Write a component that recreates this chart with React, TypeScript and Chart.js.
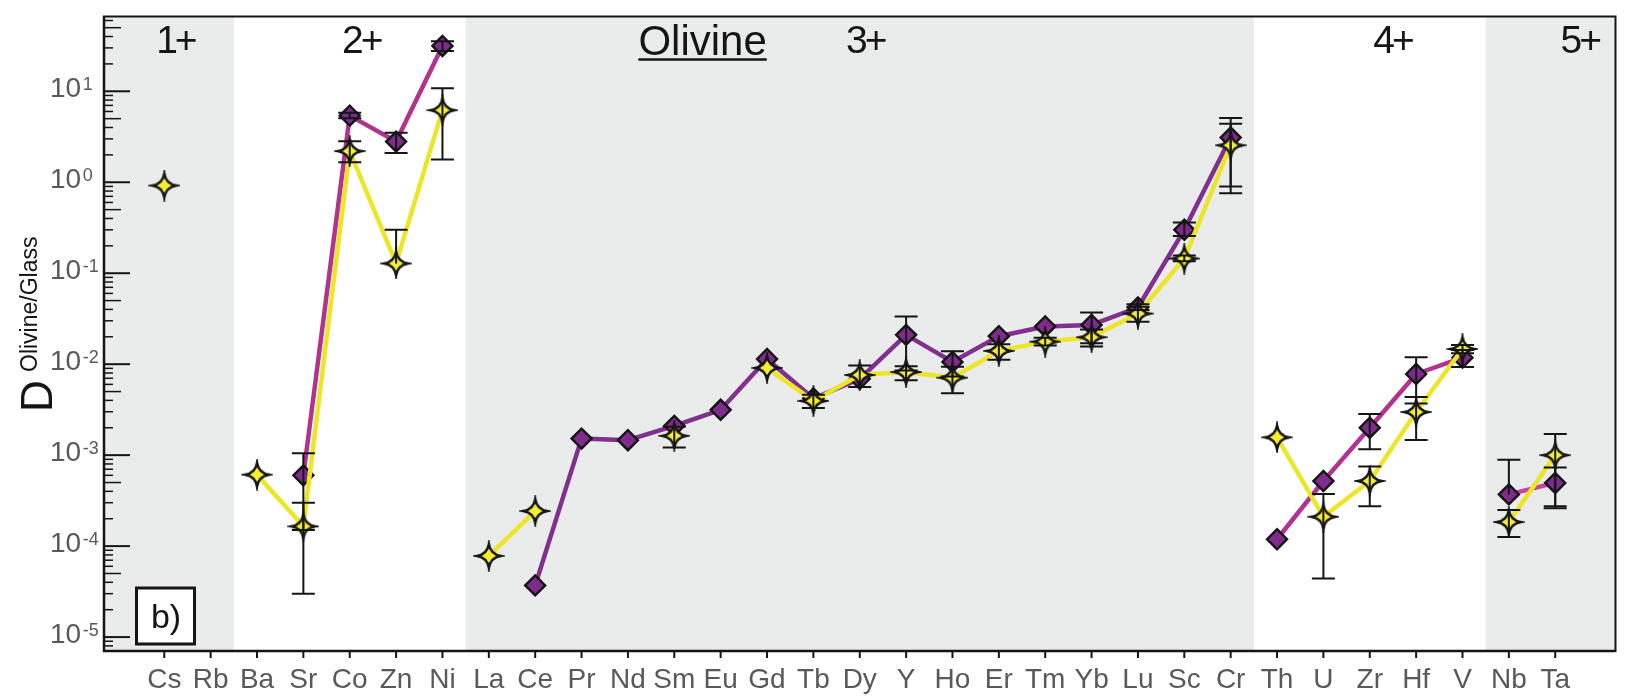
import React, { useEffect, useRef } from 'react';
import { Chart, registerables } from 'chart.js';

Chart.register(...registerables);

// ---------- data ----------
const ELEMENTS = ['Cs', 'Rb', 'Ba', 'Sr', 'Co', 'Zn', 'Ni', 'La', 'Ce', 'Pr', 'Nd', 'Sm', 'Eu', 'Gd', 'Tb', 'Dy', 'Y', 'Ho', 'Er', 'Tm', 'Yb', 'Lu', 'Sc', 'Cr', 'Th', 'U', 'Zr', 'Hf', 'V', 'Nb', 'Ta'];
const GROUP_STARTS = [0, 2, 7, 24, 29];
const GROUP_LABELS = ['1+', '2+', '3+', '4+', '5+'];
const MINERAL_LABEL = 'Olivine';
const PANEL_LABEL = 'b)';
const Y_TITLE_MAIN = 'D';
const Y_TITLE_SUP = 'Olivine/Glass';
const Y_DECADES = [-5, -4, -3, -2, -1, 0, 1];

// purple diamonds
const SERIES_A: (number | null)[] = [null, null, null, 6.0e-4, 5.4, 2.8, 31.5, null, 3.7e-5, 1.52e-3, 1.46e-3, 2.1e-3, 3.15e-3, 0.0114, 4.2e-3, 6.9e-3, 0.021, 0.0106, 0.0203, 0.026, 0.027, 0.042, 0.30, 3.1, 1.19e-4, 5.2e-4, 2.0e-3, 7.8e-3, 0.0118, 3.7e-4, 4.95e-4];
const SERIES_A_LOW: (number | null)[] = [null, null, null, 1.5e-4, 5.05, 2.1, 27.7, null, null, null, null, null, null, null, null, null, 8.5e-3, 7.3e-3, null, null, 0.017, 0.0395, 0.256, 0.9, null, null, 1.16e-3, 3.7e-3, 9.3e-3, null, 2.6e-4];
const SERIES_A_HIGH: (number | null)[] = [null, null, null, 1.05e-3, 5.8, 3.5, 35.6, null, null, null, null, null, null, null, null, null, 0.0335, 0.0139, null, null, 0.037, 0.0456, 0.36, 5.1, null, null, 2.83e-3, 0.0119, 0.0143, 8.9e-4, 7.3e-4];

// yellow stars
const SERIES_B: (number | null)[] = [0.92, null, 6.1e-4, 1.65e-4, 2.2, 0.128, 6.2, 7.8e-5, 2.43e-4, null, null, 1.63e-3, null, 9.1e-3, 3.95e-3, 7.6e-3, 8.2e-3, 7.1e-3, 0.014, 0.0177, 0.0198, 0.036, 0.145, 2.55, 1.57e-3, 2.1e-4, 5.2e-4, 2.98e-3, 0.0147, 1.84e-4, 1.0e-3];
const SERIES_B_LOW: (number | null)[] = [null, null, null, 3.0e-5, 1.66, null, 1.78, null, null, null, null, 1.21e-3, null, null, 3.3e-3, 5.6e-3, 6.65e-3, 4.8e-3, 0.0112, 0.016, 0.0156, 0.0293, 0.135, 0.757, null, 4.4e-5, 2.75e-4, 1.47e-3, 0.0132, 1.26e-4, 2.75e-4];
const SERIES_B_HIGH: (number | null)[] = [null, null, null, 3.0e-4, 2.82, 0.30, 10.8, null, null, null, null, 2.05e-3, null, null, 4.6e-3, 9.7e-3, 9.5e-3, 9.4e-3, 0.0166, 0.0195, 0.024, 0.0427, 0.157, 4.4, null, 3.75e-4, 7.5e-4, 4.37e-3, 0.0162, 2.5e-4, 1.71e-3];

// ---------- styling ----------
const FONT = '"Liberation Sans", Arial, Helvetica, sans-serif';
const BAND_GREY = '#eaebeb';
const TICK_TEXT = '#58595b';
const INK = '#151515';
const YELLOW_LINE = '#ede626';
const YELLOW_FILL = '#f6ee2c';
const PURPLE_FILL = '#7e2b8c';
const PURPLE_LINE_BY_GROUP = ['#b3328f', '#b3328f', '#82308e', '#b3328f', '#c844a3'];
const GROUP_LABEL_POS = [0.24, 4.25, 15.12, 26.49, 30.53];
const MINERAL_LABEL_POS = 11.61;

function groupOf(i: number) {
  let g = 0;
  for (let k = 0; k < GROUP_STARTS.length; k++) if (i >= GROUP_STARTS[k]) g = k;
  return g;
}

function makeStar(): HTMLCanvasElement {
  const c = document.createElement('canvas');
  const S = 32;
  c.width = S;
  c.height = S;
  const ctx = c.getContext('2d')!;
  const m = S / 2;
  const R = 12;
  const q = 1.6;
  ctx.beginPath();
  ctx.moveTo(m, m - R);
  ctx.quadraticCurveTo(m + q, m - q, m + R, m);
  ctx.quadraticCurveTo(m + q, m + q, m, m + R);
  ctx.quadraticCurveTo(m - q, m + q, m - R, m);
  ctx.quadraticCurveTo(m - q, m - q, m, m - R);
  ctx.closePath();
  ctx.fillStyle = YELLOW_FILL;
  ctx.fill();
  ctx.lineWidth = 2.4;
  ctx.lineJoin = 'miter';
  ctx.strokeStyle = INK;
  ctx.stroke();
  return c;
}

const decor = {
  id: 'decor',
  beforeDatasetsDraw(chart: any) {
    const { ctx, chartArea: a, scales } = chart;
    const xs = scales.x;
    ctx.save();
    ctx.fillStyle = '#ffffff';
    ctx.fillRect(a.left, a.top, a.right - a.left, a.bottom - a.top);
    for (let g = 0; g < GROUP_STARTS.length; g++) {
      if (g % 2 !== 0) continue;
      const s = GROUP_STARTS[g];
      const e = g + 1 < GROUP_STARTS.length ? GROUP_STARTS[g + 1] - 1 : ELEMENTS.length - 1;
      const x0 = g === 0 ? a.left : xs.getPixelForValue(s - 0.5);
      const x1 = g === GROUP_STARTS.length - 1 ? a.right : xs.getPixelForValue(e + 0.5);
      ctx.fillStyle = BAND_GREY;
      ctx.fillRect(x0, a.top, x1 - x0, a.bottom - a.top);
    }
    ctx.restore();
  },
  afterDatasetsDraw(chart: any) {
    const { ctx, chartArea: a, scales } = chart;
    const xs = scales.x;
    const ys = scales.y;
    ctx.save();

    // error bars
    const drawErr = (vals: (number | null)[], lo: (number | null)[], hi: (number | null)[]) => {
      for (let i = 0; i < vals.length; i++) {
        const v = vals[i];
        if (v == null) continue;
        const l = lo[i];
        const h = hi[i];
        if (l == null && h == null) continue;
        const x = xs.getPixelForValue(i);
        const yv = ys.getPixelForValue(v);
        const yl = l != null ? ys.getPixelForValue(l) : yv;
        const yh = h != null ? ys.getPixelForValue(h) : yv;
        ctx.strokeStyle = INK;
        ctx.lineWidth = 2;
        ctx.beginPath();
        ctx.moveTo(x, yl);
        ctx.lineTo(x, yh);
        if (l != null) {
          ctx.moveTo(x - 11.5, yl);
          ctx.lineTo(x + 11.5, yl);
        }
        if (h != null) {
          ctx.moveTo(x - 11.5, yh);
          ctx.lineTo(x + 11.5, yh);
        }
        ctx.stroke();
      }
    };
    drawErr(SERIES_A, SERIES_A_LOW, SERIES_A_HIGH);
    drawErr(SERIES_B, SERIES_B_LOW, SERIES_B_HIGH);

    // frame
    ctx.strokeStyle = INK;
    ctx.lineWidth = 2;
    ctx.strokeRect(a.left, a.top, a.right - a.left, a.bottom - a.top);
    ctx.lineWidth = 2.5;
    ctx.beginPath();
    ctx.moveTo(a.left, a.top);
    ctx.lineTo(a.left, a.bottom);
    ctx.lineTo(a.right, a.bottom);
    ctx.stroke();

    // y ticks (inside)
    const yMin = ys.min;
    const yMax = ys.max;
    for (let e = -6; e <= 2; e++) {
      for (let m = 1; m <= 9; m++) {
        const v = m * Math.pow(10, e);
        if (v < yMin || v > yMax) continue;
        const y = ys.getPixelForValue(v);
        const len = m === 1 ? 26 : m === 5 ? 17 : 9;
        ctx.lineWidth = m === 1 ? 2 : 1.5;
        ctx.beginPath();
        ctx.moveTo(a.left, y);
        ctx.lineTo(a.left + len, y);
        ctx.stroke();
      }
    }
    // y labels
    ctx.fillStyle = TICK_TEXT;
    ctx.textBaseline = 'alphabetic';
    ctx.textAlign = 'left';
    for (const e of Y_DECADES) {
      const y = ys.getPixelForValue(Math.pow(10, e));
      ctx.font = `28px ${FONT}`;
      ctx.fillText('10', 50, y + 6);
      const w = ctx.measureText('10').width;
      ctx.font = `18px ${FONT}`;
      ctx.fillText(String(e), 50 + w + 1.5, y - 1);
    }

    // x ticks + labels
    ctx.strokeStyle = INK;
    ctx.lineWidth = 2;
    ctx.font = `28px ${FONT}`;
    ctx.textAlign = 'center';
    ctx.fillStyle = TICK_TEXT;
    for (let i = 0; i < ELEMENTS.length; i++) {
      const x = xs.getPixelForValue(i);
      ctx.beginPath();
      ctx.moveTo(x, a.bottom);
      ctx.lineTo(x, a.bottom + 7);
      ctx.stroke();
      ctx.fillText(ELEMENTS[i], x, 688);
    }

    // group labels
    ctx.fillStyle = INK;
    ctx.font = `39px ${FONT}`;
    ctx.textAlign = 'center';
    try { (ctx as any).letterSpacing = '-3px'; } catch (err) { /* ignore */ }
    for (let g = 0; g < GROUP_LABELS.length; g++) {
      ctx.fillText(GROUP_LABELS[g], xs.getPixelForValue(GROUP_LABEL_POS[g]), 53);
    }
    try { (ctx as any).letterSpacing = '0px'; } catch (err) { /* ignore */ }

    // mineral label, underlined
    ctx.font = `42px ${FONT}`;
    const mx = xs.getPixelForValue(MINERAL_LABEL_POS);
    ctx.fillText(MINERAL_LABEL, mx, 55);
    const mw = ctx.measureText(MINERAL_LABEL).width;
    ctx.lineWidth = 2.4;
    ctx.beginPath();
    ctx.moveTo(mx - mw / 2, 59.5);
    ctx.lineTo(mx + mw / 2, 59.5);
    ctx.stroke();

    // panel label box
    ctx.fillStyle = '#ffffff';
    ctx.fillRect(136.5, 588, 58, 56);
    ctx.lineWidth = 3;
    ctx.strokeRect(136.5, 588, 58, 56);
    ctx.fillStyle = INK;
    ctx.font = `34px ${FONT}`;
    ctx.textAlign = 'center';
    ctx.fillText(PANEL_LABEL, 166, 628);

    // y title
    ctx.save();
    ctx.translate(52, 412);
    ctx.rotate(-Math.PI / 2);
    ctx.textAlign = 'left';
    ctx.font = `44px ${FONT}`;
    ctx.fillText(Y_TITLE_MAIN, 0, 0);
    ctx.restore();
    ctx.save();
    ctx.translate(37, 412);
    ctx.rotate(-Math.PI / 2);
    ctx.textAlign = 'left';
    ctx.font = `23px ${FONT}`;
    ctx.fillText(Y_TITLE_SUP, 40, 0);
    ctx.restore();

    ctx.restore();
  },
};

export default function App() {
  const ref = useRef<HTMLCanvasElement>(null);
  useEffect(() => {
    const canvas = ref.current!;
    const star = makeStar();
    const segColorA = (c: any) =>
      groupOf(c.p0DataIndex) !== groupOf(c.p1DataIndex) ? 'rgba(0,0,0,0)' : PURPLE_LINE_BY_GROUP[groupOf(c.p0DataIndex)];
    const segColorB = (c: any) =>
      groupOf(c.p0DataIndex) !== groupOf(c.p1DataIndex) ? 'rgba(0,0,0,0)' : YELLOW_LINE;
    const chart = new Chart(canvas, {
      type: 'line',
      data: {
        datasets: [
          {
            label: 'stars',
            data: SERIES_B.map((v, i) => ({ x: i, y: v })) as any,
            borderColor: YELLOW_LINE,
            borderWidth: 4.5,
            borderJoinStyle: 'round',
            pointStyle: star as any,
            pointRadius: 12,
            pointHoverRadius: 12,
            spanGaps: false,
            fill: false,
            tension: 0,
            segment: { borderColor: segColorB },
          },
          {
            label: 'diamonds',
            data: SERIES_A.map((v, i) => ({ x: i, y: v })) as any,
            borderColor: PURPLE_LINE_BY_GROUP[2],
            borderWidth: 4.5,
            borderJoinStyle: 'round',
            pointStyle: 'rectRot',
            pointRadius: 10,
            pointHoverRadius: 10,
            pointBackgroundColor: PURPLE_FILL,
            pointBorderColor: INK,
            pointBorderWidth: 2.4,
            spanGaps: false,
            fill: false,
            tension: 0,
            segment: { borderColor: segColorA },
          },
        ],
      },
      options: {
        responsive: false,
        animation: false,
        events: [],
        layout: { padding: { left: 104, right: 3, top: 12, bottom: 47 } },
        scales: {
          x: { type: 'linear', min: -1.3, max: 31.3, display: false },
          y: { type: 'logarithmic', min: 7.03e-6, max: 66.4, display: false },
        },
        plugins: { legend: { display: false }, tooltip: { enabled: false } },
      },
      plugins: [decor],
    });
    return () => chart.destroy();
  }, []);
  return (
    <div style={{ position: 'fixed', left: 0, top: 0, width: 1632, height: 698, background: '#ffffff' }}>
      <canvas ref={ref} width={1632} height={698} style={{ display: 'block', width: 1632, height: 698 }} />
    </div>
  );
}
